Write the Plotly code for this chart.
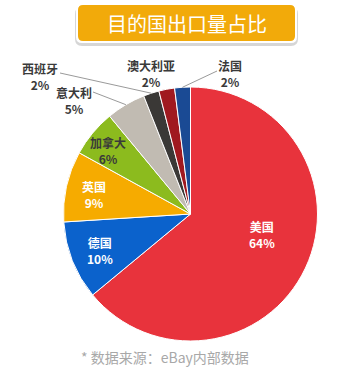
import math
import plotly.graph_objects as go

W, H = 338, 370

countries = ["美国", "德国", "英国", "加拿大", "意大利", "西班牙", "澳大利亚", "法国"]
shares = [64, 10, 9, 6, 5, 2, 2, 2]
colors = ["#e8333c", "#0b62cc", "#f6ab00", "#8cbb1e", "#c1bbb2", "#3a3836", "#a0191f", "#1a4a94"]

title_text = "目的国出口量占比"
source_text = "* 数据来源：eBay内部数据"

# label placement (pixels) and style
label_pos = [(262, 234), (100, 251), (94, 195), (108, 150), (74, 100), (40, 76), (151, 73), (230, 73)]
label_col = ["white", "white", "white", "#3a3a3a", "#3a3a3a", "#3a3a3a", "#3a3a3a", "#3a3a3a"]
leader_from = {5: (60, 73), 4: (93, 92), 7: (217, 71)}

# pie geometry (pixels)
cx, cy, r = 190.5, 214, 127


def px(x, y):
    return x / W, 1 - y / H


fig = go.Figure(go.Pie(
    labels=countries,
    values=shares,
    sort=False,
    direction="clockwise",
    rotation=0,
    marker=dict(colors=colors, line=dict(color="white", width=1)),
    textinfo="none",
    hoverinfo="label+percent",
    domain=dict(x=[(cx - r) / W, (cx + r) / W], y=[1 - (cy + r) / H, 1 - (cy - r) / H]),
    showlegend=False,
))

shapes = []


def rrect(x0, y0, x1, y1, rad):
    a0, b0 = px(x0, y0)
    a1, b1 = px(x1, y1)
    rx, ry = rad / W, rad / H
    # y in paper: b0 top (bigger), b1 bottom
    return (f"M {a0+rx},{b0} L {a1-rx},{b0} Q {a1},{b0} {a1},{b0-ry} "
            f"L {a1},{b1+ry} Q {a1},{b1} {a1-rx},{b1} L {a0+rx},{b1} "
            f"Q {a0},{b1} {a0},{b1+ry} L {a0},{b0-ry} Q {a0},{b0} {a0+rx},{b0} Z")


shapes.append(dict(type="path", xref="paper", yref="paper", path=rrect(75, 7, 298, 46, 7),
                   fillcolor="#d6d6d6", line=dict(width=0), layer="below"))
shapes.append(dict(type="path", xref="paper", yref="paper", path=rrect(76, 3, 297, 43, 6),
                   fillcolor="white", line=dict(width=0), layer="below"))
shapes.append(dict(type="path", xref="paper", yref="paper", path=rrect(78, 5, 295, 41, 5),
                   fillcolor="#f2aa0a", line=dict(width=0), layer="below"))

# leader lines to the rim of small slices (rim point computed from data)
total = sum(shares)
cum = 0
mids = []
for v in shares:
    mids.append((cum + v / 2) / total * 2 * math.pi)
    cum += v
for i, (fx, fy) in leader_from.items():
    ex = cx + r * math.sin(mids[i])
    ey = cy - r * math.cos(mids[i])
    x0, y0 = px(fx, fy)
    x1, y1 = px(ex, ey)
    shapes.append(dict(type="line", xref="paper", yref="paper", x0=x0, y0=y0, x1=x1, y1=y1,
                       line=dict(color="#9a9a9a", width=1)))

annotations = []
font_family = "Noto Sans CJK SC"
for i, name in enumerate(countries):
    x, y = px(*label_pos[i])
    annotations.append(dict(
        x=x, y=y, xref="paper", yref="paper", showarrow=False,
        text=f"<b>{name}</b><br><b>{shares[i]}%</b>",
        font=dict(family=font_family, size=12, color=label_col[i]),
        align="center", xanchor="center", yanchor="middle",
    ))

tx, ty = px(186.5, 23)
annotations.append(dict(x=tx, y=ty, xref="paper", yref="paper", showarrow=False,
                        text=title_text, xanchor="center", yanchor="middle",
                        font=dict(family=font_family, size=20, color="white")))
sx, sy = px(165, 357)
annotations.append(dict(x=sx, y=sy, xref="paper", yref="paper", showarrow=False,
                        text=source_text, xanchor="center", yanchor="middle",
                        font=dict(family=font_family, size=14, color="#a8a8a8")))

fig.update_layout(
    width=W, height=H,
    margin=dict(l=0, r=0, t=0, b=0),
    paper_bgcolor="white",
    plot_bgcolor="white",
    shapes=shapes,
    annotations=annotations,
)

fig.write_html("out.html")
